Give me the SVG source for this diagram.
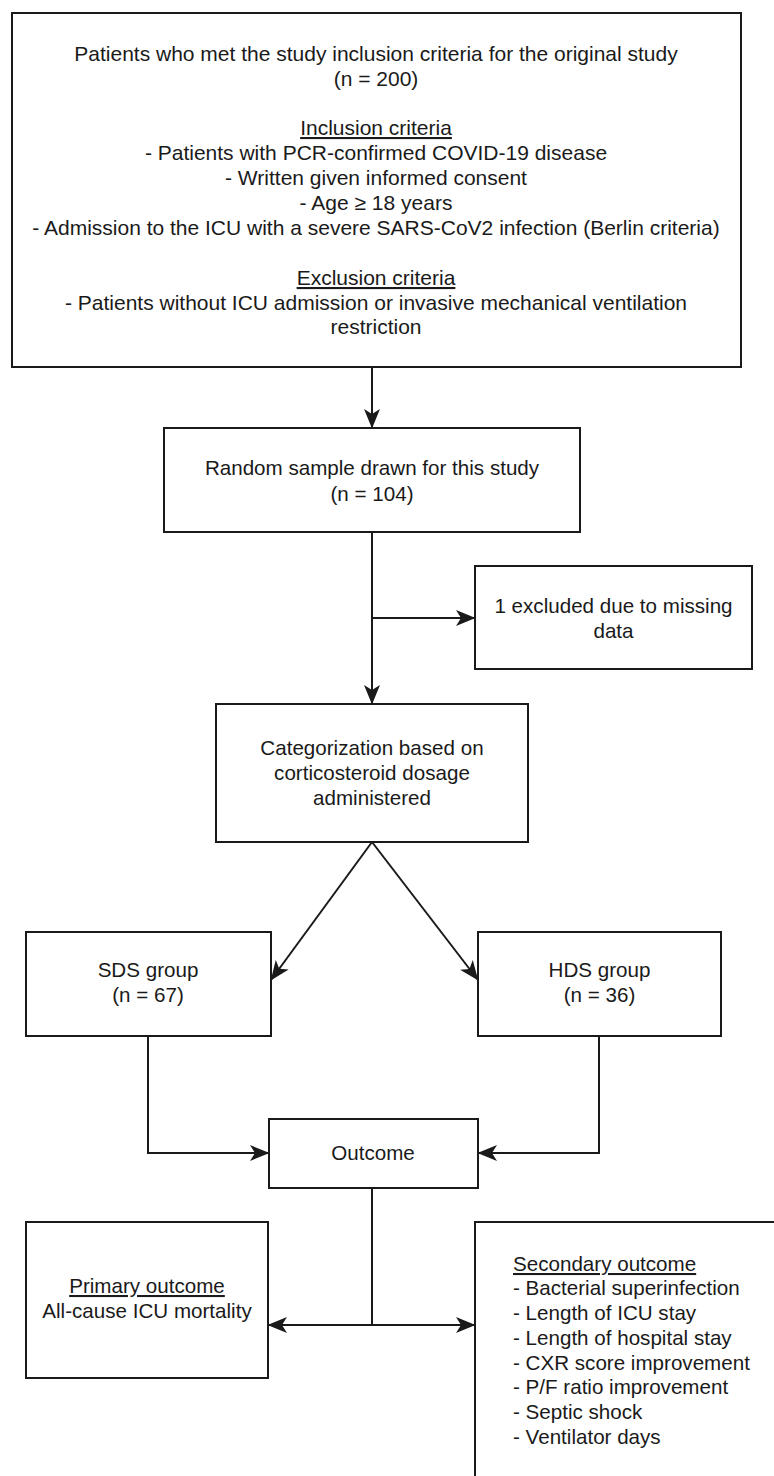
<svg xmlns="http://www.w3.org/2000/svg" width="774" height="1476" viewBox="0 0 774 1476">
<style>
.box{fill:#fff;stroke:#1a1a1a;stroke-width:2}
.t{font-family:"Liberation Sans",Arial,sans-serif;font-size:20.6px;fill:#1a1a1a;text-anchor:middle}
.big{font-size:21px}
.l{text-anchor:start}
.u{text-decoration:underline}
.c{fill:none;stroke:#1a1a1a;stroke-width:2}
</style>
<defs>
<marker id="ah" markerUnits="userSpaceOnUse" markerWidth="20" markerHeight="18" viewBox="0 0 20 18" refX="19" refY="9" orient="auto-start-reverse">
<path d="M0,1 L19.5,9 L0,17 L5,9 Z" fill="#1a1a1a"/>
</marker>
</defs>
<rect width="774" height="1476" fill="#fff"/>
<g id="connectors">
<path class="c" d="M372,367 L372,428" marker-end="url(#ah)"/>
<path class="c" d="M372,532 L372,704" marker-end="url(#ah)"/>
<path class="c" d="M372,618 L475,618" marker-end="url(#ah)"/>
<path class="c" d="M372,842 L271,980" marker-end="url(#ah)"/>
<path class="c" d="M372,842 L478,980" marker-end="url(#ah)"/>
<path class="c" d="M148,1036 L148,1153 L269,1153" marker-end="url(#ah)"/>
<path class="c" d="M599,1036 L599,1153 L478,1153" marker-end="url(#ah)"/>
<path class="c" d="M372,1188 L372,1325"/>
<path class="c" d="M268,1325 L475,1325" marker-start="url(#ah)" marker-end="url(#ah)"/>
</g>
<g id="n-original">
<rect class="box" x="12" y="13" width="729" height="354"/>
<text class="t big" x="376" y="61">Patients who met the study inclusion criteria for the original study</text>
<text class="t big" x="376" y="86">(n = 200)</text>
<text class="t big u" x="376" y="135">Inclusion criteria</text>
<text class="t big" x="376" y="160">- Patients with PCR-confirmed COVID-19 disease</text>
<text class="t big" x="376" y="185">- Written given informed consent</text>
<text class="t big" x="376" y="210">- Age ≥ 18 years</text>
<text class="t big" x="376" y="235">- Admission to the ICU with a severe SARS-CoV2 infection (Berlin criteria)</text>
<text class="t big u" x="376" y="285">Exclusion criteria</text>
<text class="t big" x="376" y="310">- Patients without ICU admission or invasive mechanical ventilation</text>
<text class="t big" x="376" y="334">restriction</text>
</g>
<g id="n-random">
<rect class="box" x="164" y="428" width="416" height="104"/>
<text class="t" x="372" y="475">Random sample drawn for this study</text>
<text class="t" x="372" y="501">(n = 104)</text>
</g>
<g id="n-excluded">
<rect class="box" x="475" y="566" width="277" height="103"/>
<text class="t" x="613.5" y="613">1 excluded due to missing</text>
<text class="t" x="613.5" y="638">data</text>
</g>
<g id="n-categorization">
<rect class="box" x="216" y="704" width="312" height="138"/>
<text class="t" x="372" y="755">Categorization based on</text>
<text class="t" x="372" y="780">corticosteroid dosage</text>
<text class="t" x="372" y="805">administered</text>
</g>
<g id="n-sds">
<rect class="box" x="26" y="932" width="245" height="104"/>
<text class="t" x="148" y="977">SDS group</text>
<text class="t" x="148" y="1002">(n = 67)</text>
</g>
<g id="n-hds">
<rect class="box" x="478" y="932" width="243" height="104"/>
<text class="t" x="599.5" y="977">HDS group</text>
<text class="t" x="599.5" y="1002">(n = 36)</text>
</g>
<g id="n-outcome">
<rect class="box" x="269" y="1119" width="209" height="69"/>
<text class="t" x="373" y="1160">Outcome</text>
</g>
<g id="n-primary">
<rect class="box" x="26" y="1222" width="242" height="156"/>
<text class="t u" x="147" y="1293">Primary outcome</text>
<text class="t" x="147" y="1318">All-cause ICU mortality</text>
</g>
<g id="n-secondary">
<rect class="box" x="475" y="1222" width="320" height="280"/>
<text class="t l u" x="513" y="1271">Secondary outcome</text>
<text class="t l" x="513" y="1295">- Bacterial superinfection</text>
<text class="t l" x="513" y="1320">- Length of ICU stay</text>
<text class="t l" x="513" y="1345">- Length of hospital stay</text>
<text class="t l" x="513" y="1370">- CXR score improvement</text>
<text class="t l" x="513" y="1394">- P/F ratio improvement</text>
<text class="t l" x="513" y="1419">- Septic shock</text>
<text class="t l" x="513" y="1444">- Ventilator days</text>
</g>
</svg>
